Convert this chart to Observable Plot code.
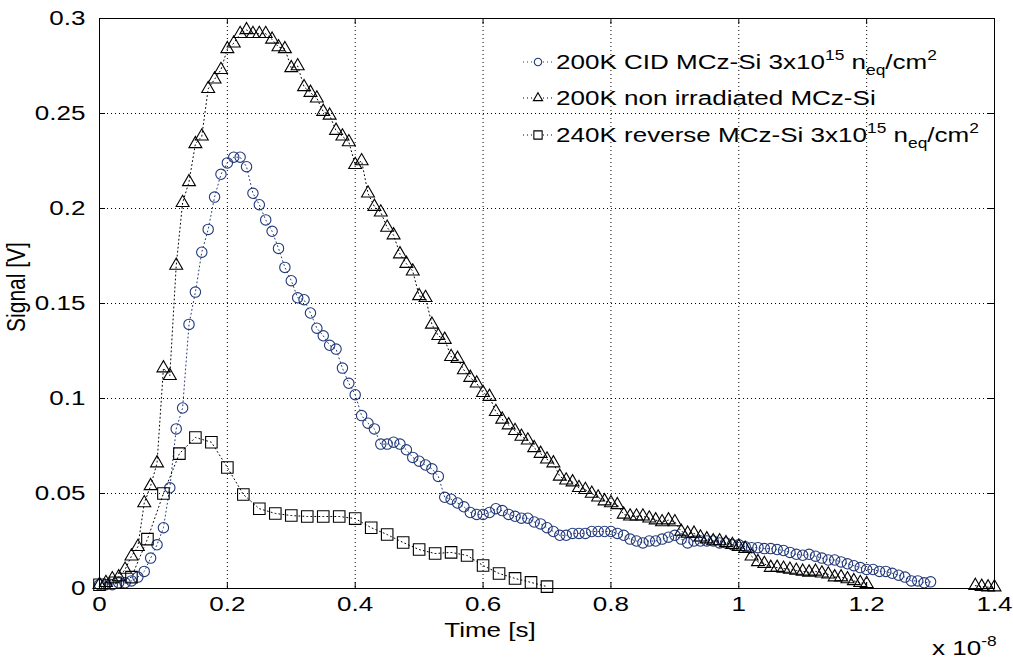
<!DOCTYPE html>
<html>
<head>
<meta charset="utf-8">
<script src="https://cdn.jsdelivr.net/npm/d3@7"></script>
<script src="https://cdn.jsdelivr.net/npm/@observablehq/plot@0.6"></script>
<style>
  body { margin: 0; background: #fff; }
  #chart { width: 1013px; height: 660px; }
</style>
</head>
<body>
<div id="chart"></div>
<script>
// ---------- axis ticks ----------
const xTicks = [0, 0.2, 0.4, 0.6, 0.8, 1, 1.2, 1.4];
const xTickLabels = ["0", "0.2", "0.4", "0.6", "0.8", "1", "1.2", "1.4"];
const yTicks = [0, 0.05, 0.1, 0.15, 0.2, 0.25, 0.3];
const yTickLabels = ["0", "0.05", "0.1", "0.15", "0.2", "0.25", "0.3"];

// ---------- series: 200K CID MCz-Si 3x10^15 neq/cm2 (circles) ----------
const cidTime = [
  0.00,0.01,0.02,0.03,0.04,0.05,0.06,0.07,0.08,0.09,
  0.10,0.11,0.12,0.13,0.14,0.15,0.16,0.17,0.18,0.19,
  0.20,0.21,0.22,0.23,0.24,0.25,0.26,0.27,0.28,0.29,
  0.30,0.31,0.32,0.33,0.34,0.35,0.36,0.37,0.38,0.39,
  0.40,0.41,0.42,0.43,0.44,0.45,0.46,0.47,0.48,0.49,
  0.50,0.51,0.52,0.53,0.54,0.55,0.56,0.57,0.58,0.59,
  0.60,0.61,0.62,0.63,0.64,0.65,0.66,0.67,0.68,0.69,
  0.70,0.71,0.72,0.73,0.74,0.75,0.76,0.77,0.78,0.79,
  0.80,0.81,0.82,0.83,0.84,0.85,0.86,0.87,0.88,0.89,
  0.90,0.91,0.92,0.93,0.94,0.95,0.96,0.97,0.98,0.99,
  1.00,1.01,1.02,1.03,1.04,1.05,1.06,1.07,1.08,1.09,
  1.10,1.11,1.12,1.13,1.14,1.15,1.16,1.17,1.18,1.19,
  1.20,1.21,1.22,1.23,1.24,1.25,1.26,1.27,1.28,1.29,
  1.30
];
const cidSignal = [
  0.002,0.002,0.002,0.003,0.003,0.004,0.006,0.009,0.016,0.023,
  0.032,0.053,0.084,0.095,0.139,0.156,0.177,0.189,0.206,0.218,
  0.224,0.227,0.227,0.222,0.208,0.202,0.194,0.188,0.179,0.169,
  0.162,0.153,0.152,0.145,0.137,0.133,0.128,0.126,0.116,0.108,
  0.102,0.091,0.087,0.084,0.076,0.076,0.077,0.076,0.073,0.069,
  0.067,0.065,0.063,0.059,0.048,0.047,0.045,0.043,0.040,0.039,
  0.039,0.040,0.042,0.041,0.039,0.038,0.037,0.037,0.035,0.034,
  0.032,0.030,0.028,0.028,0.029,0.029,0.029,0.030,0.030,0.030,
  0.030,0.029,0.028,0.026,0.025,0.024,0.025,0.025,0.026,0.027,
  0.028,0.026,0.024,0.025,0.025,0.025,0.025,0.024,0.024,0.023,
  0.023,0.022,0.0215,0.0215,0.021,0.021,0.0205,0.020,0.019,0.018,
  0.0175,0.018,0.017,0.016,0.015,0.015,0.014,0.013,0.012,0.011,
  0.010,0.010,0.009,0.009,0.008,0.007,0.006,0.004,0.004,0.003,
  0.0035
];

// ---------- series: 200K non irradiated MCz-Si (triangles) ----------
const nonIrrTime = [
  0.00,0.01,0.02,0.03,0.04,0.05,0.06,0.07,0.08,0.09,
  0.10,0.11,0.12,0.13,0.14,0.15,0.16,0.17,0.18,0.19,
  0.20,0.21,0.22,0.23,0.24,0.25,0.26,0.27,0.28,0.29,
  0.30,0.31,0.32,0.33,0.34,0.35,0.36,0.37,0.38,0.39,
  0.40,0.41,0.42,0.43,0.44,0.45,0.46,0.47,0.48,0.49,
  0.50,0.51,0.52,0.53,0.54,0.55,0.56,0.57,0.58,0.59,
  0.60,0.61,0.62,0.63,0.64,0.65,0.66,0.67,0.68,0.69,
  0.70,0.71,0.72,0.73,0.74,0.75,0.76,0.77,0.78,0.79,
  0.80,0.81,0.82,0.83,0.84,0.85,0.86,0.87,0.88,0.89,
  0.90,0.91,0.92,0.93,0.94,0.95,0.96,0.97,0.98,0.99,
  1.00,1.01,1.02,1.03,1.04,1.05,1.06,1.07,1.08,1.09,
  1.10,1.11,1.12,1.13,1.14,1.15,1.16,1.17,1.18,1.19,
  1.20,
  1.37,1.38,1.39,1.40
];
const nonIrrSignal = [
  0.002,0.003,0.005,0.006,0.010,0.017,0.022,0.045,0.054,0.066,
  0.116,0.112,0.170,0.203,0.214,0.234,0.238,0.263,0.268,0.273,
  0.284,0.287,0.292,0.294,0.292,0.292,0.292,0.289,0.285,0.284,
  0.274,0.275,0.264,0.261,0.258,0.251,0.249,0.241,0.238,0.235,
  0.223,0.225,0.208,0.201,0.198,0.190,0.186,0.176,0.171,0.167,
  0.154,0.153,0.139,0.133,0.131,0.122,0.121,0.115,0.111,0.108,
  0.103,0.101,0.093,0.089,0.086,0.083,0.080,0.078,0.074,0.071,
  0.068,0.066,0.059,0.057,0.056,0.053,0.052,0.050,0.048,0.046,
  0.045,0.044,0.039,0.038,0.038,0.038,0.037,0.036,0.035,0.036,
  0.035,0.030,0.029,0.029,0.027,0.026,0.025,0.025,0.024,0.023,
  0.022,0.021,0.017,0.014,0.013,0.011,0.011,0.0105,0.010,0.0095,
  0.009,0.0085,0.009,0.008,0.0075,0.006,0.006,0.005,0.004,0.003,
  0.0025,
  0.0015,0.001,0.0007,0.0007
];

// ---------- series: 240K reverse MCz-Si 3x10^15 neq/cm2 (squares) ----------
const revTime = [
  0,0.025,0.05,0.075,0.1,0.125,0.15,0.175,0.2,0.225,
  0.25,0.275,0.3,0.325,0.35,0.375,0.4,0.425,0.45,0.475,
  0.5,0.525,0.55,0.575,0.6,0.625,0.65,0.675,0.7
];
const revSignal = [
  0.002,0.003,0.006,0.026,0.050,0.071,0.0795,0.077,0.0637,0.0495,
  0.042,0.0395,0.0384,0.0379,0.0379,0.0379,0.0368,0.032,0.0284,0.0242,
  0.0205,0.0184,0.019,0.0174,0.0121,0.0079,0.0053,0.0032,0.001
];

// ---------- build tables ----------
const cid = cidTime.map((t, i) => ({t, v: cidSignal[i]}));
const nonIrr = nonIrrTime.map((t, i) => ({t, v: nonIrrSignal[i], seg: t > 1.3 ? "b" : "a"}));
const rev = revTime.map((t, i) => ({t, v: revSignal[i]}));

const blue = "#22397a";
const W = 1013, H = 660;
const mL = 99, mR = 19, mT = 18, mB = 72;
const frameW = W - mL - mR, frameH = H - mT - mB;
const dots = "1,3";
const font = "'Liberation Sans', Arial, Helvetica, sans-serif";
const FS = 21;   // font size
const SX = 1.24; // horizontal stretch of the original figure's text

const plot = Plot.plot({
  width: W,
  height: H,
  marginLeft: mL,
  marginRight: mR,
  marginTop: mT,
  marginBottom: mB,
  style: {fontFamily: font, fontSize: FS + "px", color: "#000", background: "#fff"},
  x: {domain: [0, 1.4], ticks: xTicks, tickFormat: (d, i) => xTickLabels[i], tickSize: 0, tickPadding: 8, label: null},
  y: {domain: [0, 0.3], ticks: yTicks, tickFormat: (d, i) => yTickLabels[i], tickSize: 0, tickPadding: 14, label: null},
  marks: [
    // dotted grid
    Plot.ruleX(xTicks, {x: d => d, stroke: "#000", strokeDasharray: dots, strokeWidth: 1}),
    Plot.ruleY(yTicks, {y: d => d, stroke: "#000", strokeDasharray: dots, strokeWidth: 1}),
    // inward ticks on all four sides
    Plot.tickX(xTicks, {x: d => d, insetTop: frameH - 6, stroke: "#000"}),
    Plot.tickX(xTicks, {x: d => d, insetBottom: frameH - 6, stroke: "#000"}),
    Plot.tickY(yTicks, {y: d => d, insetRight: frameW - 6, stroke: "#000"}),
    Plot.tickY(yTicks, {y: d => d, insetLeft: frameW - 6, stroke: "#000"}),
    // dotted connecting lines
    Plot.line(cid, {x: "t", y: "v", stroke: blue, strokeDasharray: dots, strokeWidth: 1}),
    Plot.line(nonIrr, {x: "t", y: "v", z: "seg", stroke: "#000", strokeDasharray: dots, strokeWidth: 1}),
    Plot.line(rev, {x: "t", y: "v", stroke: "#000", strokeDasharray: dots, strokeWidth: 1}),
    // markers
    Plot.dot(cid, {x: "t", y: "v", symbol: "circle", r: 5.2, stroke: blue, fill: "none", strokeWidth: 1.1}),
    Plot.dot(nonIrr, {x: "t", y: "v", symbol: "triangle", r: 4.8, stroke: "#000", fill: "none", strokeWidth: 1.1}),
    Plot.dot(rev, {x: "t", y: "v", symbol: "square", r: 6.5, stroke: "#000", fill: "none", strokeWidth: 1.1}),
    Plot.frame({stroke: "#000", strokeWidth: 1})
  ]
});

document.getElementById("chart").appendChild(plot);

const svg = d3.select(plot);

// stretch tick labels horizontally like the reference
svg.selectAll("text").each(function() {
  const t = this.getAttribute("transform") || "";
  this.setAttribute("transform", (t + ` scale(${SX},1)`).trim());
});

function richText(g, x, y, parts, anchor) {
  const txt = g.append("text")
    .attr("transform", `translate(${x},${y}) scale(${SX},1)`)
    .attr("text-anchor", anchor || "start")
    .attr("font-family", font)
    .attr("font-size", FS)
    .attr("fill", "#000");
  let off = 0;
  parts.forEach(([s, kind]) => {
    const target = kind === "sup" ? -9 : kind === "sub" ? 6 : 0;
    const ts = txt.append("tspan").text(s).attr("dy", target - off);
    if (kind) ts.attr("font-size", 14);
    off = target;
  });
  return txt;
}

const ov = svg.append("g");

// axis titles
richText(ov, 490, 637, [["Time [s]"]], "middle");
ov.append("text")
  .attr("transform", `translate(25,287) scale(${SX},1) rotate(-90)`)
  .attr("text-anchor", "middle")
  .attr("font-family", font).attr("font-size", FS)
  .text("Signal [V]");
// exponent
richText(ov, 932, 655, [["x 10"], ["-8", "sup"]], "start");

// legend
const legendItems = [
  {sym: d3.symbolCircle, r: 5, color: blue, parts: [["200K CID MCz-Si 3x10"], ["15", "sup"], [" n"], ["eq", "sub"], ["/cm"], ["2", "sup"]]},
  {sym: d3.symbolTriangle, r: 4.6, color: "#000", parts: [["200K non irradiated MCz-Si"]]},
  {sym: d3.symbolSquare, r: 6.3, color: "#000", parts: [["240K reverse MCz-Si 3x10"], ["15", "sup"], [" n"], ["eq", "sub"], ["/cm"], ["2", "sup"]]}
];
const legendY = [62, 98, 135];
legendItems.forEach((it, i) => {
  const y = legendY[i];
  ov.append("line").attr("x1", 523).attr("x2", 554).attr("y1", y).attr("y2", y)
    .attr("stroke", it.color).attr("stroke-dasharray", dots);
  ov.append("path").attr("d", d3.symbol(it.sym, Math.PI * it.r * it.r * 0.55)())
    .attr("transform", `translate(538,${y})`)
    .attr("fill", "#fff").attr("stroke", it.color).attr("stroke-width", 1.1);
  richText(ov, 556, y + 7, it.parts, "start");
});
</script>
</body>
</html>
